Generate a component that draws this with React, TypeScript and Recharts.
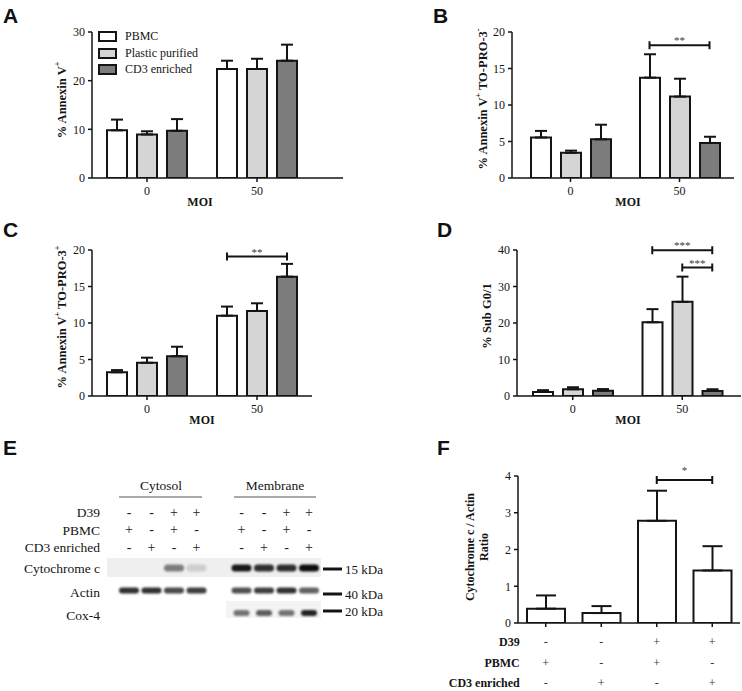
import React from 'react';
import { BarChart, Bar, XAxis, YAxis, ErrorBar, ReferenceLine, ScatterChart, Scatter } from 'recharts';

const SERIF = '"Liberation Serif", "Times New Roman", serif';
const SANS = '"Liberation Sans", Arial, sans-serif';
const INK = '#141414';

// ---------- shared categories / series ----------
const moiCategories = ['0', '50'];
const seriesNames = ['PBMC', 'Plastic purified', 'CD3 enriched'];
const seriesFills = ['#ffffff', '#d5d5d5', '#7c7c7c'];

// ---------- Panel A : % Annexin V+ ----------
const aPBMC = [9.8, 22.4];
const aPlastic = [8.95, 22.4];
const aCD3 = [9.7, 24.1];
const aPBMCErr = [2.2, 1.7];
const aPlasticErr = [0.65, 2.1];
const aCD3Err = [2.4, 3.3];
const aTicks = [0, 10, 20, 30];

// ---------- Panel B : % Annexin V+ TO-PRO-3- ----------
const bPBMC = [5.55, 13.75];
const bPlastic = [3.45, 11.15];
const bCD3 = [5.3, 4.8];
const bPBMCErr = [0.9, 3.2];
const bPlasticErr = [0.3, 2.45];
const bCD3Err = [2.0, 0.85];
const bTicks = [0, 5, 10, 15, 20];

// ---------- Panel C : % Annexin V+ TO-PRO-3+ ----------
const cPBMC = [3.25, 11.0];
const cPlastic = [4.55, 11.65];
const cCD3 = [5.45, 16.35];
const cPBMCErr = [0.3, 1.25];
const cPlasticErr = [0.7, 1.05];
const cCD3Err = [1.3, 1.75];
const cTicks = [0, 5, 10, 15, 20];

// ---------- Panel D : % Sub G0/1 ----------
const dPBMC = [1.1, 20.2];
const dPlastic = [1.85, 25.8];
const dCD3 = [1.45, 1.4];
const dPBMCErr = [0.5, 3.6];
const dPlasticErr = [0.55, 6.9];
const dCD3Err = [0.45, 0.45];
const dTicks = [0, 10, 20, 30, 40];

// ---------- Panel F : Cytochrome c / Actin ratio ----------
const fConditions = ['c1', 'c2', 'c3', 'c4'];
const fD39 = ['-', '-', '+', '+'];
const fPBMC = ['+', '-', '+', '-'];
const fCD3 = ['-', '+', '-', '+'];
const fRatio = [0.39, 0.27, 2.78, 1.43];
const fRatioErr = [0.36, 0.19, 0.82, 0.66];
const fTicks = [0, 1, 2, 3, 4];
const fRowLabels = ['D39', 'PBMC', 'CD3 enriched'];

// ---------- Panel E : western blot ----------
const eLanes = [0, 1, 2, 3, 5, 6, 7, 8];
const eD39 = ['-', '-', '+', '+', '-', '-', '+', '+'];
const ePBMC = ['+', '-', '+', '-', '+', '-', '+', '-'];
const eCD3 = ['-', '+', '-', '+', '-', '+', '-', '+'];
const eSignLabels = ['D39', 'PBMC', 'CD3 enriched'];
const eBlotLabels = ['Cytochrome c', 'Actin', 'Cox-4'];
const eMarkers = ['15 kDa', '40 kDa', '20 kDa'];
const eCytC = [0, 0, 0.5, 0.15, 0.95, 0.85, 0.85, 1.0];
const eActin = [0.85, 0.85, 0.75, 0.8, 0.72, 0.8, 0.85, 0.65];
const eCox4 = [0, 0, 0, 0, 0.55, 0.65, 0.55, 0.9];

const BAR = 20;
const GAP = 10;

const axisStyle = { stroke: INK, strokeWidth: 1.5 };
const tickStyle = { fontFamily: SERIF, fontSize: 12, fill: INK };

function buildMoiRows(vals: number[][], errs: number[][]) {
  return moiCategories.map((cat, g) => {
    const row: any = { cat };
    vals.forEach((v, i) => {
      row[`s${i}`] = v[g];
      row[`e${i}`] = [0, errs[i][g]];
    });
    return row;
  });
}

// bracket drawn around the reference point(s); dx offsets are bar-slot offsets from band centre
const makeBracket = (dx1: number, dx2: number, label: string, lift: number) => (p: any) => {
  const xa = Number(p.x1) + dx1;
  const xb = Number(p.x2) + dx2;
  const y = Number(p.y1);
  const h = 4;
  return (
    <g>
      <path d={`M${xa},${y}H${xb}M${xa},${y - h}V${y + h}M${xb},${y - h}V${y + h}`} stroke={INK} strokeWidth={2} fill="none" />
      <text x={(xa + xb) / 2} y={y - lift} textAnchor="middle" style={{ fontFamily: SERIF }} fontSize={11} fill="#3a3a3a">
        {label}
      </text>
    </g>
  );
};

type Bracket = { from: number; to: number; group: number; y: number; label: string };
type Cfg = {
  left: number; top: number; width: number; height: number;
  plotLeft: number; plotTop: number; plotRight: number; plotBottom: number;
  padL: number; padR: number; yMax: number; yTicks: number[];
  rows: any[]; brackets: Bracket[];
};

function MoiPanel({ cfg }: { cfg: Cfg }) {
  const slot = BAR + GAP;
  return (
    <div style={{ position: 'absolute', left: cfg.left, top: cfg.top }}>
      <BarChart
        width={cfg.width}
        height={cfg.height}
        data={cfg.rows}
        margin={{ top: cfg.plotTop, right: cfg.width - cfg.plotRight, bottom: 0, left: 0 }}
        barSize={BAR}
        barGap={GAP}
      >
        <XAxis
          dataKey="cat"
          height={cfg.height - cfg.plotBottom}
          padding={{ left: cfg.padL, right: cfg.padR }}
          tickSize={4}
          tickMargin={4}
          interval={0}
          axisLine={axisStyle}
          tickLine={axisStyle}
          tick={tickStyle}
        />
        <YAxis
          width={cfg.plotLeft}
          type="number"
          domain={[0, cfg.yMax]}
          ticks={cfg.yTicks}
          interval={0}
          allowDataOverflow
          tickSize={4}
          tickMargin={3}
          axisLine={axisStyle}
          tickLine={axisStyle}
          tick={tickStyle}
        />
        {seriesNames.map((n, i) => (
          <Bar
            key={n}
            dataKey={`s${i}`}
            name={n}
            fill={seriesFills[i]}
            stroke={INK}
            strokeWidth={2}
            isAnimationActive={false}
          >
            <ErrorBar dataKey={`e${i}`} width={6} strokeWidth={2} stroke={INK} isAnimationActive={false} />
          </Bar>
        ))}
        {cfg.brackets.map((b, k) => (
          <ReferenceLine
            key={k}
            segment={[
              { x: moiCategories[b.group], y: b.y },
              { x: moiCategories[b.group], y: b.y },
            ]}
            position="middle"
            ifOverflow="visible"
            shape={makeBracket((b.from - 1) * slot, (b.to - 1) * slot, b.label, 1)}
          />
        ))}
      </BarChart>
    </div>
  );
}

const panelA: Cfg = {
  left: 0, top: 0, width: 370, height: 220,
  plotLeft: 92, plotTop: 32, plotRight: 343, plotBottom: 178, padL: 0, padR: 31,
  yMax: 30, yTicks: aTicks,
  rows: buildMoiRows([aPBMC, aPlastic, aCD3], [aPBMCErr, aPlasticErr, aCD3Err]),
  brackets: [],
};
const panelB: Cfg = {
  left: 370, top: 0, width: 372, height: 220,
  plotLeft: 142, plotTop: 32, plotRight: 364, plotBottom: 178, padL: 4, padR: 0,
  yMax: 20, yTicks: bTicks,
  rows: buildMoiRows([bPBMC, bPlastic, bCD3], [bPBMCErr, bPlasticErr, bCD3Err]),
  brackets: [{ from: 0, to: 2, group: 1, y: 18.2, label: '**' }],
};
const panelC: Cfg = {
  left: 0, top: 220, width: 370, height: 220,
  plotLeft: 92, plotTop: 30, plotRight: 312, plotBottom: 176, padL: 0, padR: 0,
  yMax: 20, yTicks: cTicks,
  rows: buildMoiRows([cPBMC, cPlastic, cCD3], [cPBMCErr, cPlasticErr, cCD3Err]),
  brackets: [{ from: 0, to: 2, group: 1, y: 19.1, label: '**' }],
};
const panelD: Cfg = {
  left: 370, top: 220, width: 372, height: 220,
  plotLeft: 147, plotTop: 30, plotRight: 371, plotBottom: 176, padL: 1, padR: 4,
  yMax: 40, yTicks: dTicks,
  rows: buildMoiRows([dPBMC, dPlastic, dCD3], [dPBMCErr, dPlasticErr, dCD3Err]),
  brackets: [
    { from: 0, to: 2, group: 1, y: 39.9, label: '***' },
    { from: 1, to: 2, group: 1, y: 35.2, label: '***' },
  ],
};

// ---------- Panel F ----------
const fRows = fConditions.map((c, i) => ({
  cat: c,
  v: fRatio[i],
  e: [0, fRatioErr[i]],
  signs: [fD39[i], fPBMC[i], fCD3[i]],
}));

const FTick = (p: any) => {
  const { x, y, payload, index } = p;
  const row = fRows.find((r) => r.cat === payload.value) || fRows[index];
  const offs = [15.3, 36.3, 56.3];
  return (
    <g>
      {row.signs.map((s: string, k: number) => (
        <text key={k} x={x} y={y + offs[k]} textAnchor="middle" dominantBaseline="central" style={{ fontFamily: SERIF }} fontSize={12} fill="#333">
          {s}
        </text>
      ))}
      {index === 0 &&
        fRowLabels.map((l, k) => (
          <text key={'l' + k} x={x - 26} y={y + offs[k]} textAnchor="end" dominantBaseline="central" style={{ fontFamily: SERIF }} fontWeight="bold" fontSize={12} fill={INK}>
            {l}
          </text>
        ))}
    </g>
  );
};

function PanelF() {
  const W = 322, H = 251, pl = 98, pt = 36, pr = 320, pb = 183;
  return (
    <div style={{ position: 'absolute', left: 420, top: 440 }}>
      <BarChart width={W} height={H} data={fRows} margin={{ top: pt, right: W - pr, bottom: 0, left: 0 }} barSize={38}>
        <XAxis dataKey="cat" height={H - pb} tickSize={4} tickMargin={0} interval={0} axisLine={axisStyle} tickLine={axisStyle} tick={<FTick />} />
        <YAxis width={pl} type="number" domain={[0, 4]} ticks={fTicks} interval={0} allowDataOverflow tickSize={4} tickMargin={3} axisLine={axisStyle} tickLine={axisStyle} tick={tickStyle} />
        <Bar dataKey="v" fill="#ffffff" stroke={INK} strokeWidth={2} isAnimationActive={false}>
          <ErrorBar dataKey="e" width={10} strokeWidth={2} stroke={INK} isAnimationActive={false} />
        </Bar>
        <ReferenceLine
          segment={[{ x: fConditions[2], y: 3.89 }, { x: fConditions[3], y: 3.89 }]}
          position="middle"
          ifOverflow="visible"
          shape={makeBracket(0, 0, '*', 6)}
        />
      </BarChart>
    </div>
  );
}

// ---------- Panel E ----------
const signPoints = eLanes.flatMap((lane, i) => [
  { lane, row: 0, s: eD39[i] },
  { lane, row: 1, s: ePBMC[i] },
  { lane, row: 2, s: eCD3[i] },
]);
const bandPoints = eLanes.flatMap((lane, i) => [
  { lane, row: 0, a: eCytC[i] },
  { lane, row: 1, a: eActin[i] },
  { lane, row: 2, a: eCox4[i] },
]);

const SignShape = (p: any) => (
  <text x={p.cx} y={p.cy} textAnchor="middle" dominantBaseline="central" style={{ fontFamily: SERIF }} fontSize={14} fill="#222">
    {p.payload.s}
  </text>
);
const BandShape = (p: any) => {
  const a = p.payload.a;
  if (!a) return <g />;
  const h = p.payload.row === 0 ? 7 : 6;
  const w = p.payload.row === 2 ? 16 : 20;
  return (
    <rect
      x={p.cx - w / 2}
      y={p.cy - h / 2}
      width={w}
      height={h}
      rx={h / 2}
      fill="#0c0c0c"
      fillOpacity={a}
      style={{ filter: 'blur(1.1px)' }}
    />
  );
};

function PanelE() {
  const W = 420;
  return (
    <>
      <svg style={{ position: 'absolute', left: 0, top: 440 }} width={W} height={251}>
        <rect x={107} y={118} width={214} height={19} fill="#efefef" />
        <rect x={226} y={161} width={95} height={17} fill="#f4f4f4" />
      </svg>
      <div style={{ position: 'absolute', left: 0, top: 500 }}>
        <ScatterChart width={W} height={60} margin={{ top: 12, bottom: 13, left: 129, right: 111 }}>
          <XAxis type="number" dataKey="lane" domain={[0, 8]} hide height={0} />
          <YAxis type="number" dataKey="row" domain={[0, 2]} reversed hide width={0} />
          <Scatter data={signPoints} shape={<SignShape />} isAnimationActive={false} />
        </ScatterChart>
      </div>
      <div style={{ position: 'absolute', left: 0, top: 550 }}>
        <ScatterChart width={W} height={80} margin={{ top: 18, bottom: 17, left: 129, right: 111 }}>
          <XAxis type="number" dataKey="lane" domain={[0, 8]} hide height={0} />
          <YAxis type="number" dataKey="row" domain={[0, 2]} reversed hide width={0} />
          <Scatter data={bandPoints} shape={<BandShape />} isAnimationActive={false} />
        </ScatterChart>
      </div>
      <svg style={{ position: 'absolute', left: 0, top: 440 }} width={W} height={251}>
        <g style={{ fontFamily: SERIF }} fontSize={13.5} fill={INK}>
          <text x={161} y={45} textAnchor="middle" dominantBaseline="central">Cytosol</text>
          <text x={275} y={45} textAnchor="middle" dominantBaseline="central">Membrane</text>
          <line x1={119} x2={202} y1={57} y2={57} stroke="#555" strokeWidth={1} />
          <line x1={234} x2={316} y1={57} y2={57} stroke="#555" strokeWidth={1} />
          {eSignLabels.map((l, k) => (
            <text key={l} x={100} y={[72, 90, 107][k]} textAnchor="end" dominantBaseline="central">{l}</text>
          ))}
          {eBlotLabels.map((l, k) => (
            <text key={l} x={100} y={[128, 152, 175][k]} textAnchor="end" dominantBaseline="central">{l}</text>
          ))}
          {eMarkers.map((m, k) => (
            <g key={m}>
              <line x1={323} x2={342} y1={[129, 154, 171][k]} y2={[129, 154, 171][k]} stroke={INK} strokeWidth={3} />
              <text x={345} y={[129, 154, 171][k]} dominantBaseline="central" fontSize={13}>{m}</text>
            </g>
          ))}
        </g>
      </svg>
    </>
  );
}

// ---------- overlay texts ----------
function RotLabel({ cx, cy, parts, size = 12.5 }: { cx: number; cy: number; parts: [string, boolean][]; size?: number }) {
  return (
    <text
      transform={`rotate(-90 ${cx} ${cy})`}
      x={cx}
      y={cy}
      textAnchor="middle"
      dominantBaseline="central"
      style={{ fontFamily: SERIF }}
      fontWeight="bold"
      fontSize={size}
      fill={INK}
    >
      {parts.map(([t, sup], i) =>
        sup ? (
          <tspan key={i} baselineShift="super" fontSize={size * 0.65}>{t}</tspan>
        ) : (
          <tspan key={i}>{t}</tspan>
        )
      )}
    </text>
  );
}

function Overlay() {
  const letters: [string, number, number][] = [
    ['A', 3, 23], ['B', 433, 23], ['C', 3, 237], ['D', 437, 237], ['E', 3, 455], ['F', 437, 455],
  ];
  const mois: [number, number][] = [[200, 202], [628, 202], [202, 420], [628, 420]];
  return (
    <svg style={{ position: 'absolute', left: 0, top: 0, pointerEvents: 'none' }} width={742} height={691}>
      {letters.map(([l, x, y]) => (
        <text key={l} x={x} y={y} style={{ fontFamily: SANS }} fontWeight="bold" fontSize={21} fill="#111">{l}</text>
      ))}
      {mois.map(([x, y], i) => (
        <text key={i} x={x} y={y} textAnchor="middle" dominantBaseline="central" style={{ fontFamily: SERIF }} fontWeight="bold" fontSize={12} fill={INK}>MOI</text>
      ))}
      <RotLabel cx={62} cy={100} parts={[['% Annexin V', false], ['+', true]]} />
      <RotLabel cx={483} cy={99} parts={[['% Annexin V', false], ['+', true], [' TO-PRO-3', false], ['-', true]]} />
      <RotLabel cx={62} cy={317} parts={[['% Annexin V', false], ['+', true], [' TO-PRO-3', false], ['+', true]]} />
      <RotLabel cx={487} cy={316} parts={[['% Sub G0/1', false]]} />
      <RotLabel cx={470} cy={547} parts={[['Cytochrome c / Actin', false]]} size={12} />
      <RotLabel cx={484} cy={547} parts={[['Ratio', false]]} size={12} />
    </svg>
  );
}

function LegendA() {
  return (
    <div style={{ position: 'absolute', left: 98, top: 31 }}>
      {seriesNames.map((n, i) => (
        <div key={n} style={{ position: 'absolute', left: 0, top: i * 16.7, height: 11, display: 'flex', alignItems: 'center', whiteSpace: 'nowrap' }}>
          <div style={{ width: 19, height: 11, boxSizing: 'border-box', border: `2px solid ${INK}`, background: seriesFills[i] }} />
          <span style={{ marginLeft: 8, fontFamily: SERIF, fontSize: 12, color: INK, lineHeight: '11px' }}>{n}</span>
        </div>
      ))}
    </div>
  );
}

const css = `
.fig-root, .fig-root svg, .fig-root text { font-family: "Liberation Serif", "Times New Roman", serif; }
.fig-root .recharts-cartesian-axis-tick-value, .fig-root .recharts-text { font-family: "Liberation Serif", "Times New Roman", serif !important; }
`;

export default function App() {
  return (
    <div className="fig-root" style={{ position: 'absolute', left: 0, top: 0, width: 742, height: 691, background: '#fff', overflow: 'hidden', fontFamily: SERIF }}>
      <style>{css}</style>
      <MoiPanel cfg={panelA} />
      <MoiPanel cfg={panelB} />
      <MoiPanel cfg={panelC} />
      <MoiPanel cfg={panelD} />
      <PanelE />
      <PanelF />
      <LegendA />
      <Overlay />
    </div>
  );
}
